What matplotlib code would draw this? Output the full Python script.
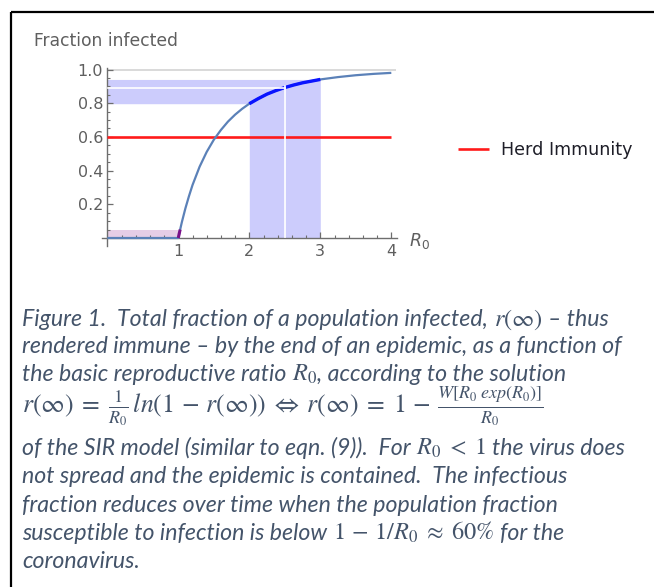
import matplotlib
matplotlib.use("Agg")
import matplotlib.pyplot as plt
from matplotlib.lines import Line2D
import numpy as np

plt.rcParams["font.family"] = ["DejaVu Sans"]
plt.rcParams["mathtext.fontset"] = "dejavusans"
plt.rcParams["mathtext.default"] = "it"

W, H = 654, 587

# ---------------- data ----------------
R0 = [0.0, 1.0, 1.02, 1.026, 1.05, 1.1, 1.15, 1.2, 1.3, 1.4, 1.5, 1.6, 1.7, 1.8,
      1.9, 2.0, 2.125, 2.25, 2.375, 2.5, 2.625, 2.75, 2.875, 3.0, 3.25, 3.5, 3.75, 4.0]
r_inf = [0.0, 0.0, 0.039, 0.050, 0.094, 0.176, 0.248, 0.314, 0.423, 0.511, 0.583,
         0.641, 0.691, 0.732, 0.767, 0.797, 0.827, 0.854, 0.875, 0.893, 0.908,
         0.921, 0.931, 0.941, 0.955, 0.966, 0.974, 0.980]
contained_level = 0.05          # purple band top (R0 < 1)
highlight_edges = [2.0, 2.5, 3.0]  # coronavirus R0 range
herd_level = 0.6
asymptote = 1.0
x_ticks = [1, 2, 3, 4]
x_tick_labels = ["1", "2", "3", "4"]
y_ticks = [0.2, 0.4, 0.6, 0.8, 1.0]
y_tick_labels = ["0.2", "0.4", "0.6", "0.8", "1.0"]
legend_label = "Herd Immunity"
y_title = "Fraction infected"

R0 = np.array(R0)
r_inf = np.array(r_inf)

# ---------------- figure ----------------
fig = plt.figure(figsize=(W / 100, H / 100), dpi=100)
fig.patch.set_facecolor("white")

# frame (top and left edges visible)
fig.add_artist(Line2D([11 / W, 1.0], [1 - 12 / H, 1 - 12 / H], color="black", lw=1.6,
                      transform=fig.transFigure, solid_capstyle="butt"))
fig.add_artist(Line2D([11 / W, 11 / W], [1 - 12 / H, 0.0], color="black", lw=1.6,
                      transform=fig.transFigure, solid_capstyle="butt"))

xlim = (-0.08, 4.08)
ylim = (-0.05, 1.01)
px_x0, px_per_x = 107.3, 71.0
px_y0, px_per_y = 238.0, 168.5
left = px_x0 + xlim[0] * px_per_x
right = px_x0 + xlim[1] * px_per_x
bottom = px_y0 - ylim[0] * px_per_y
top = px_y0 - ylim[1] * px_per_y
ax = fig.add_axes([left / W, 1 - bottom / H, (right - left) / W, (bottom - top) / H])
ax.set_xlim(*xlim)
ax.set_ylim(*ylim)
ax.patch.set_alpha(0)

axis_col = "#6e6e6e"
lab_col = "#5f5f5f"
for s in ["top", "right"]:
    ax.spines[s].set_visible(False)
ax.spines["left"].set_position(("data", 0))
ax.spines["bottom"].set_position(("data", 0))
for s in ["left", "bottom"]:
    ax.spines[s].set_color(axis_col)
    ax.spines[s].set_linewidth(1.0)

ax.set_xticks(x_ticks)
ax.set_xticklabels(x_tick_labels)
ax.set_yticks(y_ticks)
ax.set_yticklabels(y_tick_labels)
ax.set_xticks([v for v in np.arange(0.2, 4.0, 0.2) if abs(v - round(v)) > 1e-6], minor=True)
ax.set_yticks([v for v in np.arange(0.05, 1.0, 0.05) if abs(v * 5 - round(v * 5)) > 1e-6], minor=True)
ax.tick_params(which="major", direction="in", length=4, width=0.9, color=axis_col,
               labelsize=11.5, labelcolor=lab_col)
ax.tick_params(which="minor", direction="in", length=2.5, width=0.8, color=axis_col)
ax.tick_params(axis="x", which="major", pad=4)
ax.tick_params(axis="y", which="major", pad=3)

# asymptote
ax.hlines(asymptote, 0, xlim[1] - 0.01, color="#cfcfcf", lw=1.1, zorder=1)

# purple containment band
ax.fill_between([0, 1], 0, contained_level, color="#e6cde6", lw=0, zorder=1)

# coronavirus highlight bands
band_col = "#ccccfc"
for a, b in zip(highlight_edges[:-1], highlight_edges[1:]):
    m = (R0 >= a - 1e-9) & (R0 <= b + 1e-9)
    ax.fill_between(R0[m], 0, r_inf[m], color=band_col, lw=0, zorder=1)
    ax.fill_betweenx(r_inf[m], 0, R0[m], color=band_col, lw=0, zorder=1)

# herd immunity line
ax.plot([0, R0[-1]], [herd_level, herd_level], color="#ff1a1a", lw=1.9, zorder=3,
        label=legend_label, solid_capstyle="butt")

# main curve
ax.plot(R0, r_inf, color="#5b81b8", lw=1.6, zorder=4, solid_capstyle="butt")

# purple segment (contained part)
mp = (R0 >= 1.0) & (r_inf <= contained_level + 1e-9)
ax.plot(R0[mp], r_inf[mp], color="#7a0f8a", lw=2.2, zorder=5, solid_capstyle="butt")

# blue highlight segments
for a, b in zip(highlight_edges[:-1], highlight_edges[1:]):
    m = (R0 >= a - 1e-9) & (R0 <= b + 1e-9)
    ax.plot(R0[m], r_inf[m], color="#0a14ff", lw=2.4, zorder=5, solid_capstyle="butt")

# white separators between highlight segments
for e in highlight_edges[1:-1]:
    re = float(np.interp(e, R0, r_inf))
    ax.plot([e, e], [0.003, re + 0.012], color="white", lw=1.2, zorder=6)
    ax.plot([0.004, e], [re, re], color="white", lw=1.2, zorder=6)

# axis label R0
ax.annotate(r"$R_0$", xy=(1.0, 0), xycoords=("axes fraction", "data"),
            xytext=(9, -2), textcoords="offset points", ha="left", va="center",
            fontsize=12.5, color=lab_col)

# y title
fig.text(34 / W, 1 - 41 / H, y_title, fontsize=12.3, color=lab_col, ha="left", va="center")

# legend
leg = fig.legend(handles=ax.get_lines()[:1], labels=[legend_label], loc="center left",
                 bbox_to_anchor=(458 / W, 1 - 150 / H), frameon=False, borderpad=0,
                 borderaxespad=0, handlelength=1.75, handletextpad=0.7,
                 prop={"size": 12.6})
for t in leg.get_texts():
    t.set_color("#1e1e28")

# ---------------- caption ----------------
CAP_COL = "#44546a"
CAP_FS = 16.7
CAP_FAMILY = ["Lato", "DejaVu Sans"]
renderer = fig.canvas.get_renderer()
space_px = 0.25 * CAP_FS * 100 / 72


def put_line(y_base, segments, x0=22.0, math_fs=None):
    x = x0
    for seg in segments:
        lead = len(seg) - len(seg.lstrip(" "))
        trail = len(seg) - len(seg.rstrip(" "))
        s = seg.strip(" ")
        x += lead * space_px
        if s.startswith("$"):
            t = fig.text(x / W, 1 - y_base / H, s, fontsize=math_fs or CAP_FS + 0.8,
                         color=CAP_COL, ha="left", va="baseline", math_fontfamily="stix")
        else:
            t = fig.text(x / W, 1 - y_base / H, s, fontsize=CAP_FS, color=CAP_COL,
                         ha="left", va="baseline", family=CAP_FAMILY, style="italic")
        bb = t.get_window_extent(renderer)
        x = bb.x1 + trail * space_px


put_line(326, ["Figure 1.  Total fraction of a population infected, ", r"$r(\infty)$", " – thus"])
put_line(353, ["rendered immune – by the end of an epidemic, as a function of"])
put_line(381, ["the basic reproductive ratio ", r"$R_0$", ", according to the solution"])
put_line(413, [r"$r(\infty)\;=\;\frac{1}{R_0}\,ln\left(1\,-\,r(\infty)\right)\;\Leftrightarrow\;r(\infty)\;=\;1\,-\,\frac{W[R_0\;exp(R_0)]}{R_0}$"],
         math_fs=18.5)
put_line(455, ["of the SIR model (similar to eqn. (9)).  For ", r"$R_0\;<\;1$", " the virus does"])
put_line(483, ["not spread and the epidemic is contained.  The infectious"])
put_line(512, ["fraction reduces over time when the population fraction"])
put_line(540, ["susceptible to infection is below ", r"$1\,-\,1/R_0\;\approx\;60\%$", " for the"])
put_line(568, ["coronavirus."])

fig.savefig("out.png", dpi=100, facecolor="white")
